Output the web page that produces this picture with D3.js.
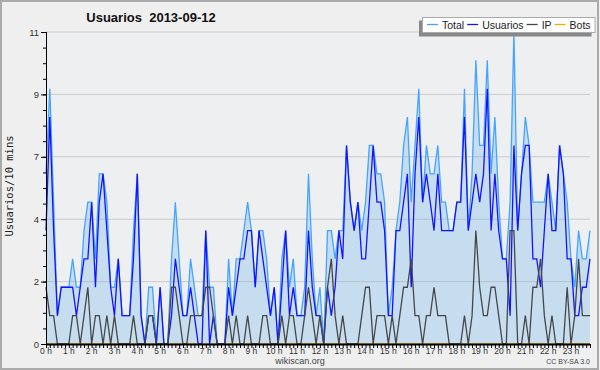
<!DOCTYPE html>
<html><head><meta charset="utf-8">
<script src="https://cdn.jsdelivr.net/npm/d3@7"></script>
<style>html,body{margin:0;padding:0;background:#efefef;} svg{display:block;}</style>
</head><body>
<svg id="c" width="600" height="370"></svg>
<script>
// ---- data (10-minute intervals, 2013-09-12) ----
const totalValues = [6,9,5,1,2,2,2,3,2,2,4,5,5,3,6,6,5,2,2,3,1,1,1,4,6,1,0,2,2,0,2,0,0,3,5,3,1,1,3,2,1,1,4,2,2,0,0,0,3,1,3,3,4,5,4,2,4,4,3,1,2,0,3,4,2,3,1,1,2,6,3,1,2,0,4,4,3,4,4,7,5,4,5,4,5,7,7,6,6,5,1,2,4,5,7,8,5,7,9,5,7,6,6,7,5,5,4,4,5,5,9,4,6,10,7,7,10,6,8,5,3,3,5,11,4,6,8,7,5,5,5,5,6,5,4,7,6,5,3,2,4,3,3,4];
const usuariosValues = [4,8,4,1,2,2,2,2,1,2,3,3,5,2,5,6,4,2,1,3,1,1,1,3,6,1,0,1,1,0,2,0,0,1,3,2,1,1,2,1,0,0,4,0,1,0,0,0,2,1,2,3,3,4,4,2,4,3,2,1,2,0,2,4,1,2,1,1,1,4,2,1,1,0,2,1,2,4,3,7,5,4,5,3,3,5,7,5,5,4,1,1,4,4,5,6,2,6,8,5,6,5,4,6,4,4,4,4,5,5,8,4,5,6,5,6,9,4,6,4,3,3,1,7,4,6,7,7,3,3,2,4,6,4,4,7,6,3,3,1,1,2,2,3];
const ipValues = [2,1,1,0,0,0,0,1,1,0,1,2,0,1,1,0,1,0,1,0,0,0,0,1,0,0,0,1,1,0,0,0,0,2,2,1,0,0,1,1,1,1,2,2,1,0,0,0,1,0,1,0,0,1,0,0,0,1,1,0,0,0,1,0,1,1,0,0,1,2,1,0,1,0,2,3,1,0,1,0,0,0,0,1,2,2,0,1,1,1,0,1,0,1,2,2,3,1,1,0,1,1,2,1,1,1,0,0,0,0,1,0,1,4,2,1,1,2,2,1,0,0,4,4,0,0,1,0,2,2,3,1,0,1,0,0,0,2,0,1,3,1,1,1];
const botsValues = [0,0,0,0,0,0,0,0,0,0,0,0,0,0,0,0,0,0,0,0,0,0,0,0,0,0,0,0,0,0,0,0,0,0,0,0,0,0,0,0,0,0,0,0,0,0,0,0,0,0,0,0,0,0,0,0,0,0,0,0,0,0,0,0,0,0,0,0,0,0,0,0,0,0,0,0,0,0,0,0,0,0,0,0,0,0,0,0,0,0,0,0,0,0,0,0,0,0,0,0,0,0,0,0,0,0,0,0,0,0,0,0,0,0,0,0,0,0,0,0,0,0,0,0,0,0,0,0,0,0,0,0,0,0,0,0,0,0,0,0,0,0,0,0];
const hourLabels = ["0 h","1 h","2 h","3 h","4 h","5 h","6 h","7 h","8 h","9 h","10 h","11 h","12 h","13 h","14 h","15 h","16 h","17 h","18 h","19 h","20 h","21 h","22 h","23 h"];
const yTickValues = [0, 2.2, 4.4, 6.6, 8.8, 11];
const yTickLabels = ["0","2","4","7","9","11"];
const seriesNames = ["Total","Usuarios","IP","Bots"];
const titleText = "Usuarios  2013-09-12";
const yAxisTitle = "Usuarios/10 mins";

// ---- styles ----
const colors = {Total:"#44a4ff", Usuarios:"#1414ff", IP:"#474747", Bots:"#ffa500"};
const fillColor = "#c6ddf0";
const W = 600, H = 370;
const L = 46, R = 590, T = 32, B = 344;
const sans = "Liberation Sans, Arial, sans-serif";

const svg = d3.select("#c");
svg.append("rect").attr("x",1).attr("y",1).attr("width",W-3).attr("height",H-2)
  .attr("fill","#efefef").attr("stroke","#aaaaaa").attr("stroke-width",2);
svg.append("rect").attr("x",L).attr("y",T).attr("width",R-L).attr("height",B-T).attr("fill","#eeeff1");

const n = totalValues.length;
const x = d3.scaleLinear().domain([0, n-1]).range([L, R]);
const y = d3.scaleLinear().domain([0, 11]).range([B, T]);
const idx = d3.range(n);

// area
svg.append("path").datum(idx)
  .attr("d", d3.area().x(i=>x(i)).y0(y(0)).y1(i=>y(totalValues[i])))
  .attr("fill", fillColor);

// gridlines
svg.append("g").selectAll("line").data(yTickValues.slice(1)).join("line")
  .attr("x1",L).attr("x2",R).attr("y1",d=>y(d)).attr("y2",d=>y(d))
  .attr("stroke","#999").attr("stroke-opacity",0.42).attr("stroke-width",1);

// lines
const line = arr => d3.line().x(i=>x(i)).y(i=>y(arr[i]));
[["Bots",botsValues],["Total",totalValues],["Usuarios",usuariosValues],["IP",ipValues]].forEach(([k,arr])=>{
  svg.append("path").datum(idx).attr("d", line(arr)).attr("fill","none")
    .attr("stroke", colors[k]).attr("stroke-width", 1.3).attr("stroke-linejoin","miter");
});

// y axis
const yMinor = d3.range(0, 21).map(k => k*0.55);
const yAxisMinor = d3.axisLeft(y).tickValues(yMinor).tickSize(3).tickFormat("");
const gyMinor = svg.append("g").attr("transform",`translate(${L},0)`).call(yAxisMinor);
gyMinor.select(".domain").remove();
const yAxis = d3.axisLeft(y).tickValues(yTickValues).tickSize(5).tickPadding(2)
  .tickFormat((d,i)=>yTickLabels[i]);
const gy = svg.append("g").attr("transform",`translate(${L},0)`).call(yAxis);
gy.select(".domain").attr("d",`M0.5,${T}V${B}`).attr("stroke","#000");
gy.selectAll("text").attr("font-family",sans).attr("font-size",9.5).attr("fill","#333");
svg.selectAll(".tick line").attr("stroke","#000");

// x axis
const xAxis = d3.axisBottom(x).tickValues(idx).tickSize(4).tickFormat("");
const gx = svg.append("g").attr("transform",`translate(0,${B})`).call(xAxis);
gx.select(".domain").attr("d",`M${L},0.5H${R}`).attr("stroke","#000").attr("stroke-width",2);
gx.selectAll(".tick line").attr("stroke","#000");
svg.append("g").selectAll("text").data(hourLabels).join("text")
  .attr("x",(d,i)=>x(i*6)).attr("y",B+10).attr("text-anchor","middle")
  .attr("font-family",sans).attr("font-size",8.5).attr("fill","#333")
  .text(d=>d);

// titles
svg.append("text").attr("x",151).attr("y",22).attr("text-anchor","middle")
  .attr("font-family",sans).attr("font-size",13).attr("font-weight","bold")
  .attr("fill","#111").style("white-space","pre").text(titleText);
svg.append("text").attr("transform","translate(13,186) rotate(-90)").attr("text-anchor","middle")
  .attr("font-family","DejaVu Sans Mono, monospace").attr("font-size",10.5).attr("fill","#222").text(yAxisTitle);
svg.append("text").attr("x",300).attr("y",364).attr("text-anchor","middle")
  .attr("font-family",sans).attr("font-size",9).attr("fill","#444").text("wikiscan.org");
svg.append("text").attr("x",590).attr("y",364).attr("text-anchor","end")
  .attr("font-family",sans).attr("font-size",7).attr("fill","#444").text("CC BY-SA  3.0");

// legend
const lg = svg.append("g");
const shadow = lg.append("rect").attr("fill","#888");
const box = lg.append("rect").attr("fill","#fff").attr("stroke","#aaa").attr("stroke-width",1);
let cx = 427;
seriesNames.forEach(name=>{
  lg.append("line").attr("x1",cx).attr("x2",cx+11).attr("y1",24.5).attr("y2",24.5)
    .attr("stroke",colors[name]).attr("stroke-width",1.3);
  const t = lg.append("text").attr("x",cx+15).attr("y",28.5)
    .attr("font-family",sans).attr("font-size",10.5).attr("fill","#222").text(name);
  cx = cx + 15 + t.node().getComputedTextLength() + 3;
});
const bx = 422, by = 17.5, bw = Math.max(cx - 422 + 1, 171), bh = 15;
box.attr("x",bx+0.5).attr("y",by).attr("width",bw).attr("height",bh);
shadow.attr("x",bx-3).attr("y",by+3).attr("width",bw).attr("height",bh+1);
</script>
</body></html>
